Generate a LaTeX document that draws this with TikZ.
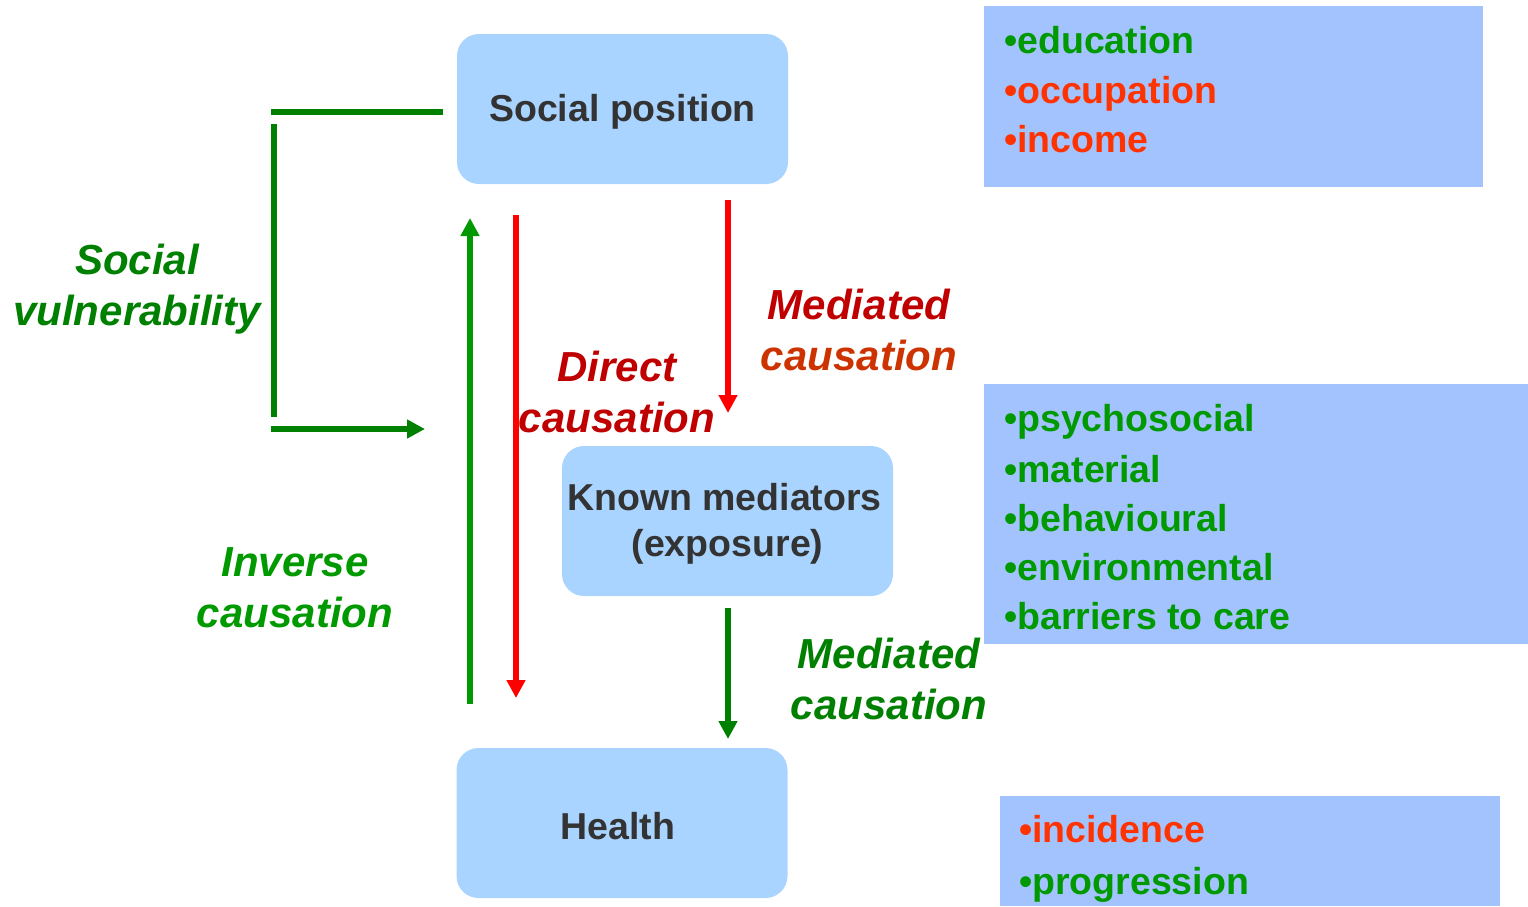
\documentclass[tikz,border=0pt]{standalone}
\usepackage{fontspec}
\setmainfont{Liberation Sans}
\usetikzlibrary{arrows.meta}
\definecolor{boxblue}{HTML}{A8D4FF}
\definecolor{listblue}{HTML}{A3C3FF}
\definecolor{dgreen}{HTML}{008000}
\definecolor{lgreen}{HTML}{009900}
\definecolor{dred}{HTML}{C00000}
\definecolor{ored}{HTML}{CC3300}
\definecolor{lred}{HTML}{FF3300}
\definecolor{pred}{HTML}{FF0000}
\definecolor{txtgray}{HTML}{333333}
% lower a line of box text without changing the node size
\newcommand{\lowerline}[1]{\raisebox{-3pt}[\height][\depth]{#1}}
\tikzset{
  mainbox/.style={fill=boxblue, rounded corners=22pt, minimum width=331pt,
    minimum height=150pt, inner sep=0pt, text=txtgray,
    font=\fontsize{37.5}{46}\selectfont\bfseries, align=center},
  listbox/.style={fill=listblue, inner sep=0pt, anchor=north west},
  listitem/.style={anchor=base west, inner sep=0pt,
    font=\fontsize{37.5}{43}\selectfont\bfseries},
  causelabel/.style={font=\fontsize{42}{51}\selectfont\bfseries\itshape,
    align=center, inner sep=0pt},
  link/.style={line width=5.5pt},
  arrowed/.style={link, -{Triangle[length=18pt,width=18pt]}}
}
\begin{document}
\begin{tikzpicture}[x=1pt,y=-1pt]
\useasboundingbox (0,0) rectangle (1528,906);

% main boxes
\node[mainbox] (sp) at (622.5,109) {\lowerline{Social position}};
\node[mainbox] (km) at (727.5,521) {\lowerline{Known mediators\hspace{6pt}}\\\lowerline{(exposure)}};
\node[mainbox] (hl) at (622,823) {\lowerline{Health\hspace{8pt}}};

% list boxes
\node[listbox, minimum width=499pt, minimum height=181pt] (l1) at (984,6) {};
\node[listbox, minimum width=544pt, minimum height=260pt] (l2) at (984,384) {};
\node[listbox, minimum width=500pt, minimum height=110pt] (l3) at (1000,796) {};

\node[listitem, text=lgreen] (i11) at (1004,53) {•education};
\node[listitem, text=lred]   (i12) at (1004,103) {•occupation};
\node[listitem, text=lred]   (i13) at (1004,152) {•income};

\node[listitem, text=lgreen] (i21) at (1004,431) {•psychosocial};
\node[listitem, text=lgreen] (i22) at (1004,482) {•material};
\node[listitem, text=lgreen] (i23) at (1004,531) {•behavioural};
\node[listitem, text=lgreen] (i24) at (1004,580) {•environmental};
\node[listitem, text=lgreen] (i25) at (1004,629) {•barriers to care};

\node[listitem, text=lred]   (i31) at (1019,842) {•incidence};
\node[listitem, text=lgreen] (i32) at (1019,894) {•progression};

% labels
\node[causelabel, text=dgreen] (sv) at (137,289) {Social\\vulnerability};
\node[causelabel, text=dred] (dc) at (617,392) {Direct\\causation};
\node[causelabel] (mc1) at (859,330) {\textcolor{dred}{Mediated}\\\textcolor{ored}{causation}};
\node[causelabel, text=lgreen] (ic) at (295,588) {Inverse\\causation};
\node[causelabel, text=dgreen] (mc2) at (889,679) {Mediated\\causation};

% connector end points
\coordinate (sva) at (271,112);
\coordinate (svb) at (443,112);
\coordinate (svc) at (274,124);
\coordinate (svd) at (274,417);
\coordinate (sve) at (271,429);
\coordinate (svf) at (425,429);
\coordinate (ica) at (470,704);
\coordinate (icb) at (470,218);
\coordinate (dca) at (516,215);
\coordinate (dcb) at (516,698);
\coordinate (m1a) at (728,200);
\coordinate (m1b) at (728,413);
\coordinate (m2a) at (728,608);
\coordinate (m2b) at (728,739);

% social vulnerability bracket
\draw[link, dgreen] (sva) -- (svb);
\draw[link, dgreen] (svc) -- (svd);
\draw[arrowed, dgreen] (sve) -- (svf);

% causation arrows
\draw[arrowed, lgreen] (ica) -- (icb);
\draw[arrowed, pred] (dca) -- (dcb);
\draw[arrowed, pred] (m1a) -- (m1b);
\draw[arrowed, dgreen] (m2a) -- (m2b);
\end{tikzpicture}
\end{document}
